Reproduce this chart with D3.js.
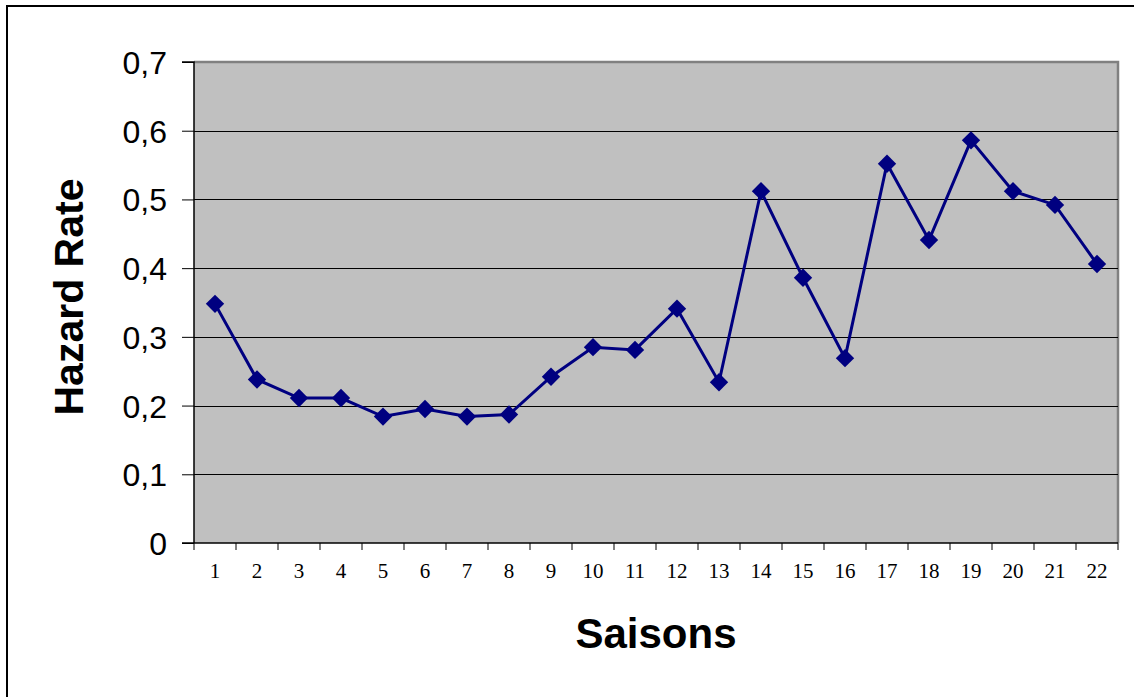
<!DOCTYPE html>
<html>
<head>
<meta charset="utf-8">
<script src="https://cdn.jsdelivr.net/npm/d3@7"></script>
<style>
html,body{margin:0;padding:0;background:#fff;}
svg{display:block;}
</style>
</head>
<body>
<svg id="chart" width="1134" height="697"></svg>
<script>
const categories = ["1","2","3","4","5","6","7","8","9","10","11","12","13","14","15","16","17","18","19","20","21","22"];
const hazardRate = [0.348,0.238,0.211,0.211,0.184,0.195,0.184,0.187,0.242,0.285,0.281,0.341,0.234,0.512,0.386,0.269,0.552,0.441,0.586,0.512,0.492,0.406];
const yTicks = [0,0.1,0.2,0.3,0.4,0.5,0.6,0.7];
const xTitle = "Saisons";
const yTitle = "Hazard Rate";

const svg = d3.select("#chart");
const L = 194, R = 1118, T = 62, B = 543;

// outer border (chart area)
svg.append("line").attr("x1",6).attr("x2",1134).attr("y1",6).attr("y2",6).attr("stroke","#000").attr("stroke-width",2);
svg.append("line").attr("x1",7).attr("x2",7).attr("y1",5).attr("y2",697).attr("stroke","#000").attr("stroke-width",2);

const x = d3.scaleBand().domain(categories).range([L,R]).padding(0);
const y = d3.scaleLinear().domain([0,0.7]).range([B,T]);

// plot area
svg.append("rect").attr("x",L).attr("y",T).attr("width",R-L).attr("height",B-T).attr("fill","#c0c0c0");
svg.append("path").attr("d",`M${L},${T}H${R}V${B}`).attr("fill","none").attr("stroke","#808080").attr("stroke-width",2.5);

// gridlines
svg.append("g").selectAll("line").data(yTicks.filter(d=>d>0 && d<0.7)).join("line")
  .attr("x1",L).attr("x2",R).attr("y1",d=>Math.round(y(d))+0.5).attr("y2",d=>Math.round(y(d))+0.5)
  .attr("stroke","#000").attr("stroke-width",1);

// y axis
const yAxis = d3.axisLeft(y).tickValues(yTicks).tickSize(12).tickPadding(15)
  .tickFormat(d=>d3.format(".1f")(d).replace(".",","));
const gy = svg.append("g").attr("transform",`translate(${L},0)`).call(yAxis);
gy.select(".domain").attr("stroke","#000").attr("stroke-width",1.5).attr("d",`M-12,${T}H0V${B}`);
gy.selectAll(".tick line").attr("stroke","#000");
gy.selectAll("text").attr("font-family","'Liberation Sans', Arial, sans-serif").attr("font-size",32).attr("fill","#000").attr("dy","0.36em");
gy.selectAll(".tick").filter(d=>d===0).select("text").text("0");

// x axis
const xAxis = d3.axisBottom(x).tickSize(0).tickPadding(20);
const gx = svg.append("g").attr("transform",`translate(0,${B})`).call(xAxis);
gx.select(".domain").attr("stroke","#000").attr("stroke-width",1.5).attr("d",`M${L-12},0H${R}`);
gx.selectAll("text").attr("font-family","'Liberation Serif', 'Times New Roman', serif").attr("font-size",21).attr("fill","#000");
// boundary tick marks
const bounds = categories.map(c=>x(c)).concat([R]);
svg.append("g").selectAll("line").data(bounds).join("line")
  .attr("x1",d=>d).attr("x2",d=>d).attr("y1",B).attr("y2",B+7).attr("stroke","#000").attr("stroke-width",1);

// line
const cx = d=>x(d)+x.bandwidth()/2;
const line = d3.line().x((d,i)=>cx(categories[i])).y(d=>y(d));
svg.append("path").datum(hazardRate).attr("d",line).attr("fill","none").attr("stroke","#000080").attr("stroke-width",3);

// markers
const diamond = d3.symbol().type(d3.symbolDiamond2).size(215);
svg.append("g").selectAll("path").data(hazardRate).join("path")
  .attr("d",diamond)
  .attr("transform",(d,i)=>`translate(${cx(categories[i])},${y(d)})`)
  .attr("fill","#000080");

// titles
svg.append("text").attr("x",656).attr("y",648).attr("text-anchor","middle")
  .attr("font-family","'Liberation Sans', Arial, sans-serif").attr("font-weight","bold").attr("font-size",42).text(xTitle);
svg.append("text").attr("transform",`translate(83,297) rotate(-90)`).attr("text-anchor","middle")
  .attr("font-family","'Liberation Sans', Arial, sans-serif").attr("font-weight","bold").attr("font-size",41).text(yTitle);
</script>
</body>
</html>
